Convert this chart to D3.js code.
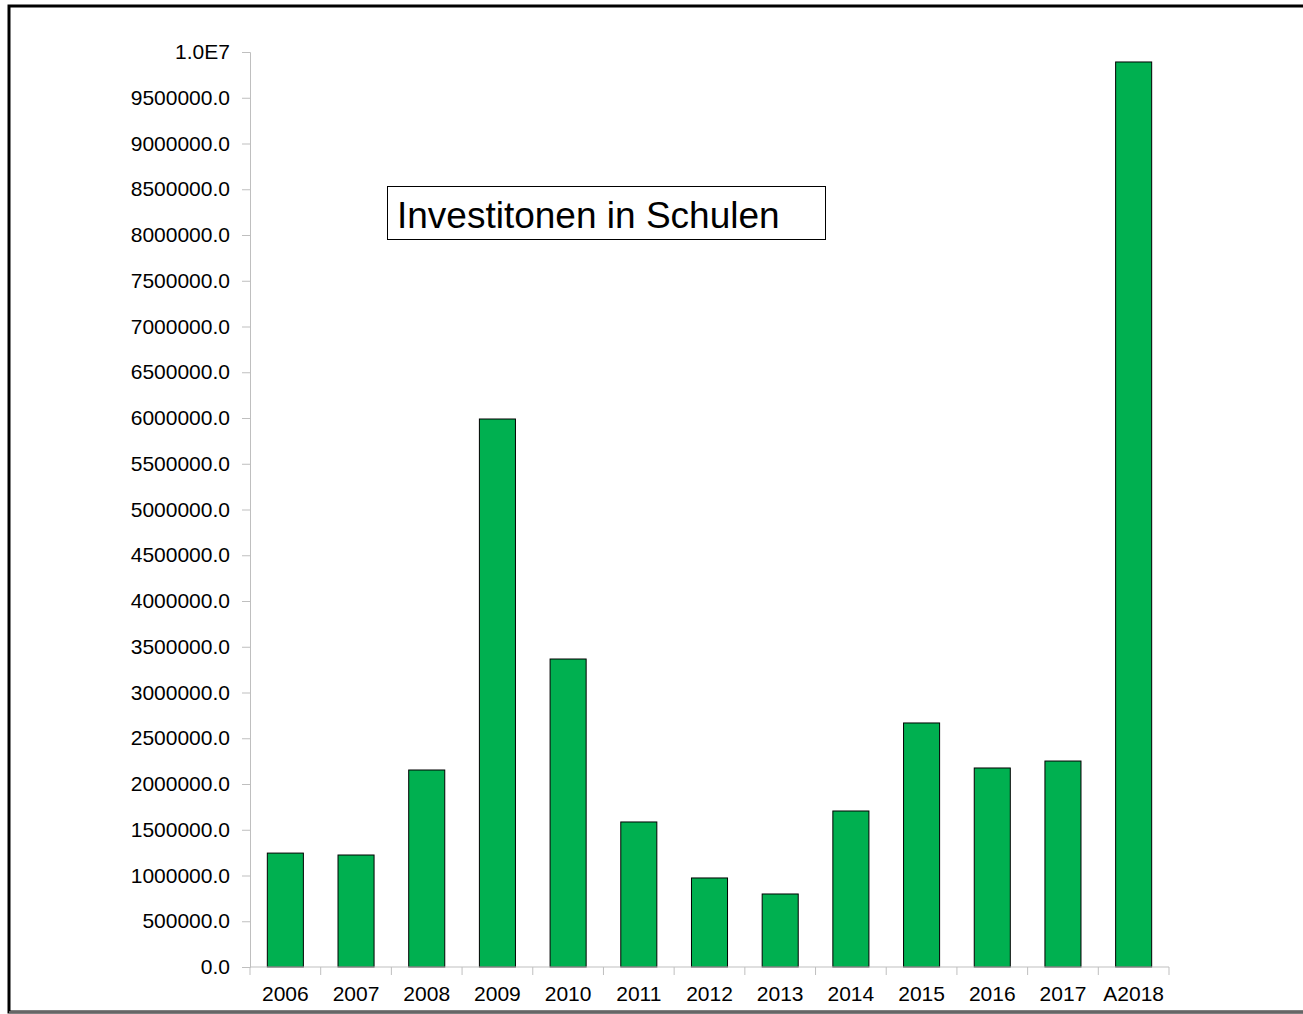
<!DOCTYPE html>
<html><head><meta charset="utf-8">
<script src="https://cdn.jsdelivr.net/npm/d3@7"></script>
<style>body{margin:0;background:#fff}svg{display:block}</style>
</head><body>
<svg id="c" width="1303" height="1014"></svg>
<script>
const categories = ["2006","2007","2008","2009","2010","2011","2012","2013","2014","2015","2016","2017","A2018"];
const values = [1245000,1224000,2153000,5989000,3366000,1585000,973000,798000,1705000,2667000,2175000,2251000,9891000];
const yTicks = d3.range(0, 10000001, 500000);
const titleText = "Investitonen in Schulen";

const svg = d3.select("#c");
const font = "'Liberation Sans', Arial, sans-serif";
// frame
svg.append("rect").attr("x",9).attr("y",6).attr("width",1310).attr("height",1006)
  .attr("fill","none").attr("stroke","#000").attr("stroke-width",3);
svg.append("line").attr("x1",9).attr("x2",1303).attr("y1",1012).attr("y2",1012).attr("stroke","#666").attr("stroke-width",2);

const L=250, R=1169, T=52, B=967;
const x = d3.scaleBand().domain(categories).range([L,R]).paddingInner(0.49).paddingOuter(0.245);
const y = d3.scaleLinear().domain([0,10000000]).range([B,T]);

const fmt = v => v===10000000 ? "1.0E7" : v.toFixed(1);

const ya = svg.append("g").attr("transform",`translate(${L},0)`)
  .call(d3.axisLeft(y).tickValues(yTicks).tickFormat(fmt).tickSizeOuter(0).tickSize(8).tickPadding(12));
ya.select(".domain").attr("stroke","#bfbfbf");
ya.selectAll(".tick line").attr("stroke","#bfbfbf");
ya.selectAll("text").attr("font-family",font).attr("font-size",21).attr("fill","#000");

// bars
svg.append("g").selectAll("rect").data(values).join("rect")
  .attr("x",(d,i)=>x(categories[i])).attr("width",x.bandwidth())
  .attr("y",d=>y(d)).attr("height",d=>B-y(d))
  .attr("fill","#00b050").attr("stroke","#000").attr("stroke-width",1);

// x axis
const xa = svg.append("g").attr("transform",`translate(0,${B})`);
xa.append("line").attr("x1",L).attr("x2",R).attr("y1",0).attr("y2",0).attr("stroke","#bfbfbf");
const bounds = d3.range(categories.length+1).map(i=>L+i*(R-L)/categories.length);
xa.selectAll("line.t").data(bounds).join("line").attr("class","t")
  .attr("x1",d=>d).attr("x2",d=>d).attr("y1",0).attr("y2",8).attr("stroke","#bfbfbf");
xa.selectAll("text").data(categories).join("text")
  .attr("x",d=>x(d)+x.bandwidth()/2).attr("y",34).attr("text-anchor","middle")
  .attr("font-family",font).attr("font-size",21).text(d=>d);

// title box
svg.append("rect").attr("x",387.5).attr("y",186.5).attr("width",438).attr("height",53)
  .attr("fill","#fff").attr("stroke","#000").attr("stroke-width",1);
svg.append("text").attr("x",397).attr("y",228).attr("font-family",font).attr("font-size",37).text(titleText);
</script>
</body></html>
